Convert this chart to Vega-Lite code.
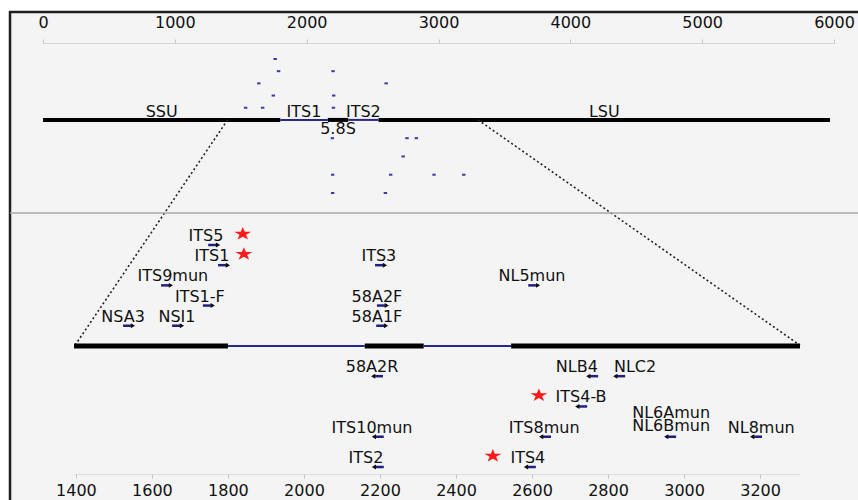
{
  "$schema": "https://vega.github.io/schema/vega-lite/v6.json",
  "width": 854,
  "height": 494,
  "autosize": {"type": "none"},
  "padding": {"left": 10, "top": 12, "right": -6, "bottom": -6},
  "background": "white",
  "config": {
    "view": {"fill": "#f4f4f4", "stroke": "#1e1e1e", "strokeWidth": 2.5},
    "text": {"font": "DejaVu Sans"},
    "axis": {"labelFont": "DejaVu Sans"}
  },
  "datasets": {
    "regions": [
      {"region": "SSU", "kind": "gene", "start": 0, "end": 1800},
      {"region": "ITS1", "kind": "spacer", "start": 1800, "end": 2160},
      {"region": "5.8S", "kind": "gene", "start": 2160, "end": 2315},
      {"region": "ITS2", "kind": "spacer", "start": 2315, "end": 2545},
      {"region": "LSU", "kind": "gene", "start": 2545, "end": 5970}
    ],
    "primers": [
      {"primer": "ITS5", "dir": "forward", "start": 1748, "end": 1774, "track": 5, "labelAt": 1742, "star": 1839},
      {"primer": "ITS1", "dir": "forward", "start": 1774, "end": 1800, "track": 4, "labelAt": 1758, "star": 1842},
      {"primer": "ITS9mun", "dir": "forward", "start": 1624, "end": 1650, "track": 3, "labelAt": 1655},
      {"primer": "ITS1-F", "dir": "forward", "start": 1734, "end": 1760, "track": 2, "labelAt": 1726},
      {"primer": "NSA3", "dir": "forward", "start": 1524, "end": 1550, "track": 1, "labelAt": 1524},
      {"primer": "NSI1", "dir": "forward", "start": 1653, "end": 1679, "track": 1, "labelAt": 1666},
      {"primer": "ITS3", "dir": "forward", "start": 2187, "end": 2213, "track": 4, "labelAt": 2197},
      {"primer": "58A2F", "dir": "forward", "start": 2192, "end": 2218, "track": 2, "labelAt": 2192},
      {"primer": "58A1F", "dir": "forward", "start": 2190, "end": 2216, "track": 1, "labelAt": 2192},
      {"primer": "NL5mun", "dir": "forward", "start": 2590, "end": 2616, "track": 3, "labelAt": 2600},
      {"primer": "58A2R", "dir": "reverse", "start": 2182, "end": 2208, "track": -1.5, "labelAt": 2179},
      {"primer": "NLB4", "dir": "reverse", "start": 2748, "end": 2774, "track": -1.5, "labelAt": 2718},
      {"primer": "NLC2", "dir": "reverse", "start": 2819, "end": 2845, "track": -1.5, "labelAt": 2871},
      {"primer": "ITS4-B", "dir": "reverse", "start": 2719, "end": 2745, "track": -3, "labelAt": 2729, "star": 2618},
      {"primer": "ITS10mun", "dir": "reverse", "start": 2184, "end": 2210, "track": -4.5, "labelAt": 2179},
      {"primer": "ITS8mun", "dir": "reverse", "start": 2624, "end": 2650, "track": -4.5, "labelAt": 2632},
      {"primer": "NL6Amun\nNL6Bmun", "dir": "reverse", "start": 2953, "end": 2979, "track": -4.5, "labelAt": 2966},
      {"primer": "NL8mun", "dir": "reverse", "start": 3179, "end": 3205, "track": -4.5, "labelAt": 3203},
      {"primer": "ITS2", "dir": "reverse", "start": 2184, "end": 2210, "track": -6, "labelAt": 2163},
      {"primer": "ITS4", "dir": "reverse", "start": 2584, "end": 2610, "track": -6, "labelAt": 2589, "star": 2497}
    ],
    "zoomLinks": [
      {"bp": 1400, "track": 0, "bp2": 243, "track2": -18.5},
      {"bp": 3300, "track": 0, "bp2": 5742, "track2": -18.5}
    ]
  },
  "layer": [
    {
      "layer": [
        {
          "data": {"name": "regions"},
          "transform": [{"filter": "datum.kind === 'gene'"}],
          "mark": {"type": "rule", "color": "#000000", "strokeWidth": 4, "strokeCap": "butt"},
          "encoding": {
            "x": {
              "field": "start", "type": "quantitative",
              "scale": {"domain": [0, 6000], "range": [33, 824], "nice": false, "zero": false},
              "axis": {
                "orient": "top", "offset": -31, "title": null, "grid": false,
                "values": [0, 1000, 2000, 3000, 4000, 5000, 6000], "format": "d",
                "labelFlush": false, "labelOverlap": false, "tickSize": 4,
                "tickColor": "#c4c4c4", "domainColor": "#d4d4d4", "domainWidth": 1,
                "labelFontSize": 16, "labelColor": "#111111", "labelPadding": 9
              }
            },
            "x2": {"field": "end"},
            "y": {"datum": 0, "type": "quantitative", "scale": {"domain": [-6, 5], "range": [181, 47], "nice": false, "zero": false}, "axis": null}
          }
        },
        {
          "data": {"name": "regions"},
          "transform": [{"filter": "datum.kind === 'spacer'"}],
          "mark": {"type": "rule", "color": "#27278f", "strokeWidth": 2, "strokeCap": "butt"},
          "encoding": {
            "x": {"field": "start", "type": "quantitative"},
            "x2": {"field": "end"},
            "y": {"datum": 0, "type": "quantitative", "axis": null}
          }
        },
        {
          "data": {"name": "regions"},
          "transform": [
            {"filter": "datum.region !== '5.8S'"},
            {"fold": ["start", "end"], "as": ["edge", "bp"]}
          ],
          "mark": {"type": "text", "fontSize": 16, "color": "#111111", "baseline": "alphabetic", "dy": -3},
          "encoding": {
            "x": {"aggregate": "mean", "field": "bp", "type": "quantitative"},
            "y": {"datum": 0, "type": "quantitative", "axis": null},
            "text": {"field": "region"}
          }
        },
        {
          "data": {"name": "regions"},
          "transform": [
            {"filter": "datum.region === '5.8S'"},
            {"fold": ["start", "end"], "as": ["edge", "bp"]}
          ],
          "mark": {"type": "text", "fontSize": 16, "color": "#111111", "baseline": "alphabetic", "dy": 14},
          "encoding": {
            "x": {"aggregate": "mean", "field": "bp", "type": "quantitative"},
            "y": {"datum": 0, "type": "quantitative", "axis": null},
            "text": {"field": "region"}
          }
        },
        {
          "data": {"name": "primers"},
          "mark": {"type": "rule", "color": "#3a3aa8", "strokeWidth": 2, "strokeCap": "butt"},
          "encoding": {
            "x": {"field": "start", "type": "quantitative"},
            "x2": {"field": "end"},
            "y": {"field": "track", "type": "quantitative", "axis": null}
          }
        },
        {
          "data": {"name": "zoomLinks"},
          "mark": {"type": "rule", "color": "#222222", "strokeWidth": 1.6, "strokeDash": [2, 2.5]},
          "encoding": {
            "x": {"field": "bp", "type": "quantitative"},
            "x2": {"field": "bp2"},
            "y": {"field": "track", "type": "quantitative", "axis": null},
            "y2": {"field": "track2"}
          }
        }
      ]
    },
    {
      "layer": [
        {
          "data": {"values": [{}]},
          "mark": {"type": "rule", "color": "#a8a8a8", "strokeWidth": 1.5},
          "encoding": {
            "y": {"datum": 6.59, "type": "quantitative", "scale": {"domain": [-6, 5], "range": [455, 233], "nice": false, "zero": false}, "axis": null}
          }
        },
        {
          "data": {"name": "regions"},
          "transform": [{"filter": "datum.kind === 'gene'"}],
          "mark": {"type": "rule", "color": "#000000", "strokeWidth": 5, "strokeCap": "butt"},
          "encoding": {
            "x": {
              "field": "start", "type": "quantitative",
              "scale": {"domain": [1395, 3305], "range": [64, 790], "clamp": true, "nice": false, "zero": false},
              "axis": {
                "orient": "bottom", "offset": -32, "title": null, "grid": false,
                "values": [1400, 1600, 1800, 2000, 2200, 2400, 2600, 2800, 3000, 3200], "format": "d",
                "labelFlush": false, "labelOverlap": false, "tickSize": 4,
                "tickColor": "#c4c4c4", "domainColor": "#dcdcdc", "domainWidth": 1,
                "labelFontSize": 16, "labelColor": "#111111", "labelPadding": 4
              }
            },
            "x2": {"field": "end"},
            "y": {"datum": 0, "type": "quantitative", "axis": null}
          }
        },
        {
          "data": {"name": "regions"},
          "transform": [{"filter": "datum.kind === 'spacer'"}],
          "mark": {"type": "rule", "color": "#27278f", "strokeWidth": 2, "strokeCap": "butt"},
          "encoding": {
            "x": {"field": "start", "type": "quantitative"},
            "x2": {"field": "end"},
            "y": {"datum": 0, "type": "quantitative", "axis": null}
          }
        },
        {
          "data": {"name": "primers"},
          "mark": {"type": "rule", "color": "#20207f", "strokeWidth": 2.5, "strokeCap": "butt"},
          "encoding": {
            "x": {"field": "start", "type": "quantitative"},
            "x2": {"field": "end"},
            "y": {"field": "track", "type": "quantitative", "axis": null}
          }
        },
        {
          "data": {"name": "primers"},
          "transform": [{"filter": "datum.dir === 'forward'"}],
          "mark": {"type": "point", "shape": "triangle-right", "filled": true, "color": "#111111", "opacity": 1, "size": 24},
          "encoding": {
            "x": {"field": "end", "type": "quantitative"},
            "y": {"field": "track", "type": "quantitative", "axis": null}
          }
        },
        {
          "data": {"name": "primers"},
          "transform": [{"filter": "datum.dir === 'reverse'"}],
          "mark": {"type": "point", "shape": "triangle-left", "filled": true, "color": "#111111", "opacity": 1, "size": 24},
          "encoding": {
            "x": {"field": "start", "type": "quantitative"},
            "y": {"field": "track", "type": "quantitative", "axis": null}
          }
        },
        {
          "data": {"name": "primers"},
          "transform": [{"filter": "indexof(datum.primer, '\\n') < 0"}],
          "mark": {"type": "text", "fontSize": 16, "color": "#111111", "baseline": "alphabetic", "dy": -4},
          "encoding": {
            "x": {"field": "labelAt", "type": "quantitative"},
            "y": {"field": "track", "type": "quantitative", "axis": null},
            "text": {"field": "primer"}
          }
        },
        {
          "data": {"name": "primers"},
          "transform": [{"filter": "indexof(datum.primer, '\\n') >= 0"}],
          "mark": {"type": "text", "fontSize": 16, "color": "#111111", "baseline": "alphabetic", "dy": -19, "lineBreak": "\n", "lineHeight": 13},
          "encoding": {
            "x": {"field": "labelAt", "type": "quantitative"},
            "y": {"field": "track", "type": "quantitative", "axis": null},
            "text": {"field": "primer"}
          }
        },
        {
          "data": {"name": "primers"},
          "transform": [{"filter": "isValid(datum.star)"}],
          "mark": {
            "type": "point", "filled": true, "color": "#ff1a1a", "opacity": 1, "size": 190, "yOffset": -11,
            "shape": "M0,-1L0.293,-0.309L1.236,-0.309L0.472,0.118L0.764,0.809L0,0.382L-0.764,0.809L-0.472,0.118L-1.236,-0.309L-0.293,-0.309Z"
          },
          "encoding": {
            "x": {"field": "star", "type": "quantitative"},
            "y": {"field": "track", "type": "quantitative", "axis": null}
          }
        }
      ]
    }
  ],
  "resolve": {"scale": {"x": "independent", "y": "independent"}, "axis": {"x": "independent", "y": "independent"}}
}
